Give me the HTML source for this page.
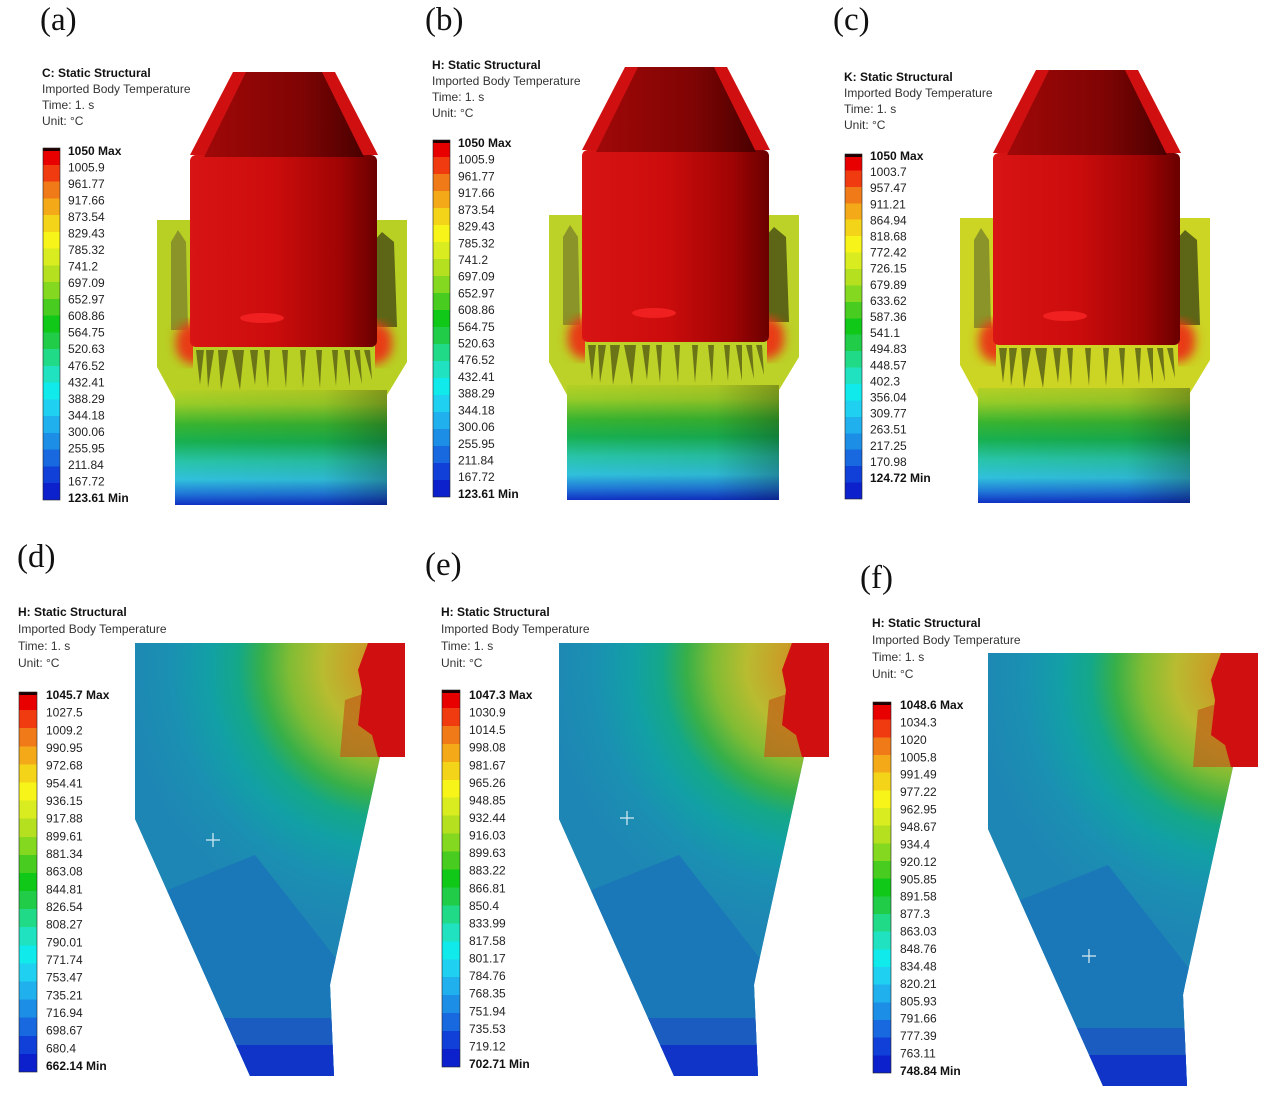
<!DOCTYPE html>
<html><head><meta charset="utf-8"><style>
html,body{margin:0;padding:0;background:#fff;}
svg{display:block;}
.pl{font-family:"Liberation Serif",serif;font-size:33px;fill:#111;}
.h{font-family:"Liberation Sans",sans-serif;font-size:12px;fill:#333;}
.hb{font-weight:bold;fill:#111;}
.lb{font-family:"Liberation Sans",sans-serif;font-size:12px;fill:#222;}
.b{font-weight:bold;fill:#111;}
</style></head><body>
<svg width="1268" height="1098" viewBox="0 0 1268 1098" xmlns="http://www.w3.org/2000/svg">
<defs>
<linearGradient id="bar" x1="0" y1="0" x2="0" y2="1">
<stop offset="0" stop-color="#200000"/><stop offset=".008" stop-color="#200000"/>
<stop offset=".008" stop-color="#e80000"/><stop offset=".0476" stop-color="#e80000"/>
<stop offset=".0476" stop-color="#f03a10"/><stop offset=".0952" stop-color="#f03a10"/>
<stop offset=".0952" stop-color="#f07a18"/><stop offset=".1428" stop-color="#f07a18"/>
<stop offset=".1428" stop-color="#f4aa18"/><stop offset=".1905" stop-color="#f4aa18"/>
<stop offset=".1905" stop-color="#f4d418"/><stop offset=".2381" stop-color="#f4d418"/>
<stop offset=".2381" stop-color="#f6f418"/><stop offset=".2857" stop-color="#f6f418"/>
<stop offset=".2857" stop-color="#d8ec20"/><stop offset=".3333" stop-color="#d8ec20"/>
<stop offset=".3333" stop-color="#b4e020"/><stop offset=".381" stop-color="#b4e020"/>
<stop offset=".381" stop-color="#84d820"/><stop offset=".4286" stop-color="#84d820"/>
<stop offset=".4286" stop-color="#48cc20"/><stop offset=".4762" stop-color="#48cc20"/>
<stop offset=".4762" stop-color="#10c818"/><stop offset=".5238" stop-color="#10c818"/>
<stop offset=".5238" stop-color="#20cc48"/><stop offset=".5714" stop-color="#20cc48"/>
<stop offset=".5714" stop-color="#20da88"/><stop offset=".619" stop-color="#20da88"/>
<stop offset=".619" stop-color="#20e2c0"/><stop offset=".6667" stop-color="#20e2c0"/>
<stop offset=".6667" stop-color="#10eaea"/><stop offset=".7143" stop-color="#10eaea"/>
<stop offset=".7143" stop-color="#20d0f0"/><stop offset=".7619" stop-color="#20d0f0"/>
<stop offset=".7619" stop-color="#20b0ee"/><stop offset=".8095" stop-color="#20b0ee"/>
<stop offset=".8095" stop-color="#1c8ee6"/><stop offset=".8571" stop-color="#1c8ee6"/>
<stop offset=".8571" stop-color="#1868e0"/><stop offset=".9048" stop-color="#1868e0"/>
<stop offset=".9048" stop-color="#1040d8"/><stop offset=".9524" stop-color="#1040d8"/>
<stop offset=".9524" stop-color="#0c20cc"/><stop offset="1" stop-color="#0c20cc"/>
</linearGradient>
<linearGradient id="cyl" x1="0" y1="0" x2="1" y2="0">
<stop offset="0" stop-color="#d81414"/><stop offset=".45" stop-color="#cc0c0c"/><stop offset=".8" stop-color="#a00404"/><stop offset="1" stop-color="#6a0000"/>
</linearGradient>
<linearGradient id="cone" x1="0" y1="0" x2="1" y2="0">
<stop offset="0" stop-color="#a00808"/><stop offset=".6" stop-color="#800404"/><stop offset="1" stop-color="#4a0000"/>
</linearGradient>
<linearGradient id="bot" x1="0" y1="0" x2="0" y2="1">
<stop offset="0" stop-color="#b4d024"/><stop offset=".12" stop-color="#98cc28"/><stop offset=".3" stop-color="#38b430"/><stop offset=".45" stop-color="#18b050"/><stop offset=".62" stop-color="#28c4a8"/><stop offset=".78" stop-color="#30c0dc"/><stop offset=".9" stop-color="#2078d8"/><stop offset="1" stop-color="#1030c4"/>
</linearGradient>
<linearGradient id="shade" x1="0" y1="0" x2="1" y2="0">
<stop offset="0" stop-color="#000" stop-opacity="0"/><stop offset=".7" stop-color="#000" stop-opacity=".05"/><stop offset="1" stop-color="#000" stop-opacity=".28"/>
</linearGradient>
<filter id="bl"><feGaussianBlur stdDeviation="5"/></filter>
<g id="top">
  <polygon points="157,220 407,220 407,362 387,395 387,505 175,505 175,400 157,367" fill="currentColor"/>
  <polygon points="171,242 178,230 186,242 188,330 171,330" fill="#8a9428"/>
  <polygon points="373,242 382,232 394,242 397,327 373,327" fill="#5c6616"/>
  <rect x="176" y="322" width="216" height="42" rx="18" fill="#e83a14" filter="url(#bl)"/>
  <rect x="193" y="345" width="182" height="46" fill="currentColor"/>
  <g fill="#6c7418">
    <polygon points="196,350 204,350 200,385"/><polygon points="206,350 214,350 208,388"/>
    <polygon points="218,350 228,350 221,390"/><polygon points="232,350 244,350 240,390"/>
    <polygon points="250,350 258,350 255,385"/><polygon points="264,350 270,350 268,388"/>
    <polygon points="282,350 288,350 286,388"/><polygon points="300,350 306,350 303,388"/>
    <polygon points="316,350 322,350 320,388"/><polygon points="332,350 338,350 336,386"/>
    <polygon points="344,350 350,350 350,386"/><polygon points="354,350 360,350 362,384"/>
    <polygon points="364,350 370,350 372,380"/>
  </g>
  <rect x="175" y="390" width="212" height="115" fill="url(#bot)"/>
  <rect x="175" y="390" width="212" height="115" fill="url(#shade)"/>
  <rect x="190" y="155" width="187" height="192" rx="6" fill="url(#cyl)"/>
  <ellipse cx="262" cy="318" rx="22" ry="5" fill="#f02020"/>
  <polygon points="233,72 335,72 378,155 190,155" fill="#d01010"/>
  <polygon points="246,72 322,72 364,157 204,157" fill="url(#cone)"/>
</g>
<clipPath id="cd"><polygon points="135,643 405,643 405,757 380,757 332,975 330,985 334,1076 250,1076 135,819"/></clipPath>
<radialGradient id="rg" gradientUnits="userSpaceOnUse" cx="392" cy="665" r="270">
<stop offset="0" stop-color="#d07a20"/><stop offset=".14" stop-color="#c8a028"/><stop offset=".26" stop-color="#b8bc30"/><stop offset=".38" stop-color="#80bc34"/><stop offset=".48" stop-color="#38b048"/><stop offset=".57" stop-color="#14a888"/><stop offset=".68" stop-color="#12a0a6"/><stop offset=".82" stop-color="#1a90b2"/><stop offset="1" stop-color="#1e86b4"/>
</radialGradient>
<g id="bs">
  <g clip-path="url(#cd)">
    <rect x="130" y="640" width="280" height="440" fill="#1e86b4"/>
    <rect x="130" y="640" width="280" height="440" fill="url(#rg)"/>
    <polygon points="130,905 255,855 345,970 345,1080 130,1080" fill="#1a74b8" opacity=".85"/>
    <rect x="130" y="1018" width="220" height="30" fill="#1a5cc0"/>
    <rect x="130" y="1045" width="220" height="35" fill="#1034c8"/>
    <polygon points="345,700 375,690 400,720 405,757 340,757" fill="#c06018" opacity=".7"/>
    <polygon points="368,643 405,643 405,757 378,757 372,735 358,725 362,690 358,670" fill="#d01010"/>
  </g>
</g>
</defs>

<use href="#top" style="color:#b8d024"/>
<use href="#top" transform="translate(392,-5)" style="color:#bcd228"/>
<use href="#top" transform="translate(803,-2)" style="color:#ccd424"/>

<use href="#bs"/>
<use href="#bs" transform="translate(424,0)"/>
<use href="#bs" transform="translate(853,10)"/>
<g stroke="#cfe8f0" stroke-width="1.3">
<line x1="206" y1="840" x2="220" y2="840"/><line x1="213" y1="833" x2="213" y2="847"/>
<line x1="620" y1="818" x2="634" y2="818"/><line x1="627" y1="811" x2="627" y2="825"/>
<line x1="1082" y1="956" x2="1096" y2="956"/><line x1="1089" y1="949" x2="1089" y2="963"/>
</g>

<text class="pl" x="40" y="30">(a)</text>
<text class="pl" x="425" y="30">(b)</text>
<text class="pl" x="833" y="30">(c)</text>
<text class="pl" x="17" y="567">(d)</text>
<text class="pl" x="425" y="575">(e)</text>
<text class="pl" x="860" y="588">(f)</text>

<text class="h" x="42" y="77"><tspan class="hb">C: Static Structural</tspan><tspan x="42" dy="16">Imported Body Temperature</tspan><tspan x="42" dy="16">Time: 1. s</tspan><tspan x="42" dy="16">Unit: °C</tspan></text>
<text class="h" x="432" y="69"><tspan class="hb">H: Static Structural</tspan><tspan x="432" dy="16">Imported Body Temperature</tspan><tspan x="432" dy="16">Time: 1. s</tspan><tspan x="432" dy="16">Unit: °C</tspan></text>
<text class="h" x="844" y="81"><tspan class="hb">K: Static Structural</tspan><tspan x="844" dy="16">Imported Body Temperature</tspan><tspan x="844" dy="16">Time: 1. s</tspan><tspan x="844" dy="16">Unit: °C</tspan></text>
<text class="h" x="18" y="616"><tspan class="hb">H: Static Structural</tspan><tspan x="18" dy="17">Imported Body Temperature</tspan><tspan x="18" dy="17">Time: 1. s</tspan><tspan x="18" dy="17">Unit: °C</tspan></text>
<text class="h" x="441" y="616"><tspan class="hb">H: Static Structural</tspan><tspan x="441" dy="17">Imported Body Temperature</tspan><tspan x="441" dy="17">Time: 1. s</tspan><tspan x="441" dy="17">Unit: °C</tspan></text>
<text class="h" x="872" y="627"><tspan class="hb">H: Static Structural</tspan><tspan x="872" dy="17">Imported Body Temperature</tspan><tspan x="872" dy="17">Time: 1. s</tspan><tspan x="872" dy="17">Unit: °C</tspan></text>

<g stroke="#222" stroke-width="0.6">
<rect x="43" y="148" width="17" height="352" fill="url(#bar)"/>
<rect x="433" y="140" width="17" height="357" fill="url(#bar)"/>
<rect x="845" y="154" width="17" height="345" fill="url(#bar)"/>
<rect x="19" y="692" width="18" height="380" fill="url(#bar)"/>
<rect x="442" y="690" width="18" height="377" fill="url(#bar)"/>
<rect x="873" y="702" width="18" height="371" fill="url(#bar)"/>
</g>

<text class="lb" x="68" y="155"><tspan class="b">1050 Max</tspan><tspan x="68" dy="16.52">1005.9</tspan><tspan x="68" dy="16.52">961.77</tspan><tspan x="68" dy="16.52">917.66</tspan><tspan x="68" dy="16.52">873.54</tspan><tspan x="68" dy="16.52">829.43</tspan><tspan x="68" dy="16.52">785.32</tspan><tspan x="68" dy="16.52">741.2</tspan><tspan x="68" dy="16.52">697.09</tspan><tspan x="68" dy="16.52">652.97</tspan><tspan x="68" dy="16.52">608.86</tspan><tspan x="68" dy="16.52">564.75</tspan><tspan x="68" dy="16.52">520.63</tspan><tspan x="68" dy="16.52">476.52</tspan><tspan x="68" dy="16.52">432.41</tspan><tspan x="68" dy="16.52">388.29</tspan><tspan x="68" dy="16.52">344.18</tspan><tspan x="68" dy="16.52">300.06</tspan><tspan x="68" dy="16.52">255.95</tspan><tspan x="68" dy="16.52">211.84</tspan><tspan x="68" dy="16.52">167.72</tspan><tspan x="68" dy="16.52" class="b">123.61 Min</tspan></text>

<text class="lb" x="458" y="147"><tspan class="b">1050 Max</tspan><tspan x="458" dy="16.71">1005.9</tspan><tspan x="458" dy="16.71">961.77</tspan><tspan x="458" dy="16.71">917.66</tspan><tspan x="458" dy="16.71">873.54</tspan><tspan x="458" dy="16.71">829.43</tspan><tspan x="458" dy="16.71">785.32</tspan><tspan x="458" dy="16.71">741.2</tspan><tspan x="458" dy="16.71">697.09</tspan><tspan x="458" dy="16.71">652.97</tspan><tspan x="458" dy="16.71">608.86</tspan><tspan x="458" dy="16.71">564.75</tspan><tspan x="458" dy="16.71">520.63</tspan><tspan x="458" dy="16.71">476.52</tspan><tspan x="458" dy="16.71">432.41</tspan><tspan x="458" dy="16.71">388.29</tspan><tspan x="458" dy="16.71">344.18</tspan><tspan x="458" dy="16.71">300.06</tspan><tspan x="458" dy="16.71">255.95</tspan><tspan x="458" dy="16.71">211.84</tspan><tspan x="458" dy="16.71">167.72</tspan><tspan x="458" dy="16.71" class="b">123.61 Min</tspan></text>

<text class="lb" x="870" y="160"><tspan class="b">1050 Max</tspan><tspan x="870" dy="16.1">1003.7</tspan><tspan x="870" dy="16.1">957.47</tspan><tspan x="870" dy="16.1">911.21</tspan><tspan x="870" dy="16.1">864.94</tspan><tspan x="870" dy="16.1">818.68</tspan><tspan x="870" dy="16.1">772.42</tspan><tspan x="870" dy="16.1">726.15</tspan><tspan x="870" dy="16.1">679.89</tspan><tspan x="870" dy="16.1">633.62</tspan><tspan x="870" dy="16.1">587.36</tspan><tspan x="870" dy="16.1">541.1</tspan><tspan x="870" dy="16.1">494.83</tspan><tspan x="870" dy="16.1">448.57</tspan><tspan x="870" dy="16.1">402.3</tspan><tspan x="870" dy="16.1">356.04</tspan><tspan x="870" dy="16.1">309.77</tspan><tspan x="870" dy="16.1">263.51</tspan><tspan x="870" dy="16.1">217.25</tspan><tspan x="870" dy="16.1">170.98</tspan><tspan x="870" dy="16.1" class="b">124.72 Min</tspan></text>

<text class="lb" x="46" y="699"><tspan class="b">1045.7 Max</tspan><tspan x="46" dy="17.67">1027.5</tspan><tspan x="46" dy="17.67">1009.2</tspan><tspan x="46" dy="17.67">990.95</tspan><tspan x="46" dy="17.67">972.68</tspan><tspan x="46" dy="17.67">954.41</tspan><tspan x="46" dy="17.67">936.15</tspan><tspan x="46" dy="17.67">917.88</tspan><tspan x="46" dy="17.67">899.61</tspan><tspan x="46" dy="17.67">881.34</tspan><tspan x="46" dy="17.67">863.08</tspan><tspan x="46" dy="17.67">844.81</tspan><tspan x="46" dy="17.67">826.54</tspan><tspan x="46" dy="17.67">808.27</tspan><tspan x="46" dy="17.67">790.01</tspan><tspan x="46" dy="17.67">771.74</tspan><tspan x="46" dy="17.67">753.47</tspan><tspan x="46" dy="17.67">735.21</tspan><tspan x="46" dy="17.67">716.94</tspan><tspan x="46" dy="17.67">698.67</tspan><tspan x="46" dy="17.67">680.4</tspan><tspan x="46" dy="17.67" class="b">662.14 Min</tspan></text>

<text class="lb" x="469" y="699"><tspan class="b">1047.3 Max</tspan><tspan x="469" dy="17.57">1030.9</tspan><tspan x="469" dy="17.57">1014.5</tspan><tspan x="469" dy="17.57">998.08</tspan><tspan x="469" dy="17.57">981.67</tspan><tspan x="469" dy="17.57">965.26</tspan><tspan x="469" dy="17.57">948.85</tspan><tspan x="469" dy="17.57">932.44</tspan><tspan x="469" dy="17.57">916.03</tspan><tspan x="469" dy="17.57">899.63</tspan><tspan x="469" dy="17.57">883.22</tspan><tspan x="469" dy="17.57">866.81</tspan><tspan x="469" dy="17.57">850.4</tspan><tspan x="469" dy="17.57">833.99</tspan><tspan x="469" dy="17.57">817.58</tspan><tspan x="469" dy="17.57">801.17</tspan><tspan x="469" dy="17.57">784.76</tspan><tspan x="469" dy="17.57">768.35</tspan><tspan x="469" dy="17.57">751.94</tspan><tspan x="469" dy="17.57">735.53</tspan><tspan x="469" dy="17.57">719.12</tspan><tspan x="469" dy="17.57" class="b">702.71 Min</tspan></text>

<text class="lb" x="900" y="709"><tspan class="b">1048.6 Max</tspan><tspan x="900" dy="17.43">1034.3</tspan><tspan x="900" dy="17.43">1020</tspan><tspan x="900" dy="17.43">1005.8</tspan><tspan x="900" dy="17.43">991.49</tspan><tspan x="900" dy="17.43">977.22</tspan><tspan x="900" dy="17.43">962.95</tspan><tspan x="900" dy="17.43">948.67</tspan><tspan x="900" dy="17.43">934.4</tspan><tspan x="900" dy="17.43">920.12</tspan><tspan x="900" dy="17.43">905.85</tspan><tspan x="900" dy="17.43">891.58</tspan><tspan x="900" dy="17.43">877.3</tspan><tspan x="900" dy="17.43">863.03</tspan><tspan x="900" dy="17.43">848.76</tspan><tspan x="900" dy="17.43">834.48</tspan><tspan x="900" dy="17.43">820.21</tspan><tspan x="900" dy="17.43">805.93</tspan><tspan x="900" dy="17.43">791.66</tspan><tspan x="900" dy="17.43">777.39</tspan><tspan x="900" dy="17.43">763.11</tspan><tspan x="900" dy="17.43" class="b">748.84 Min</tspan></text>
</svg>
</body></html>
